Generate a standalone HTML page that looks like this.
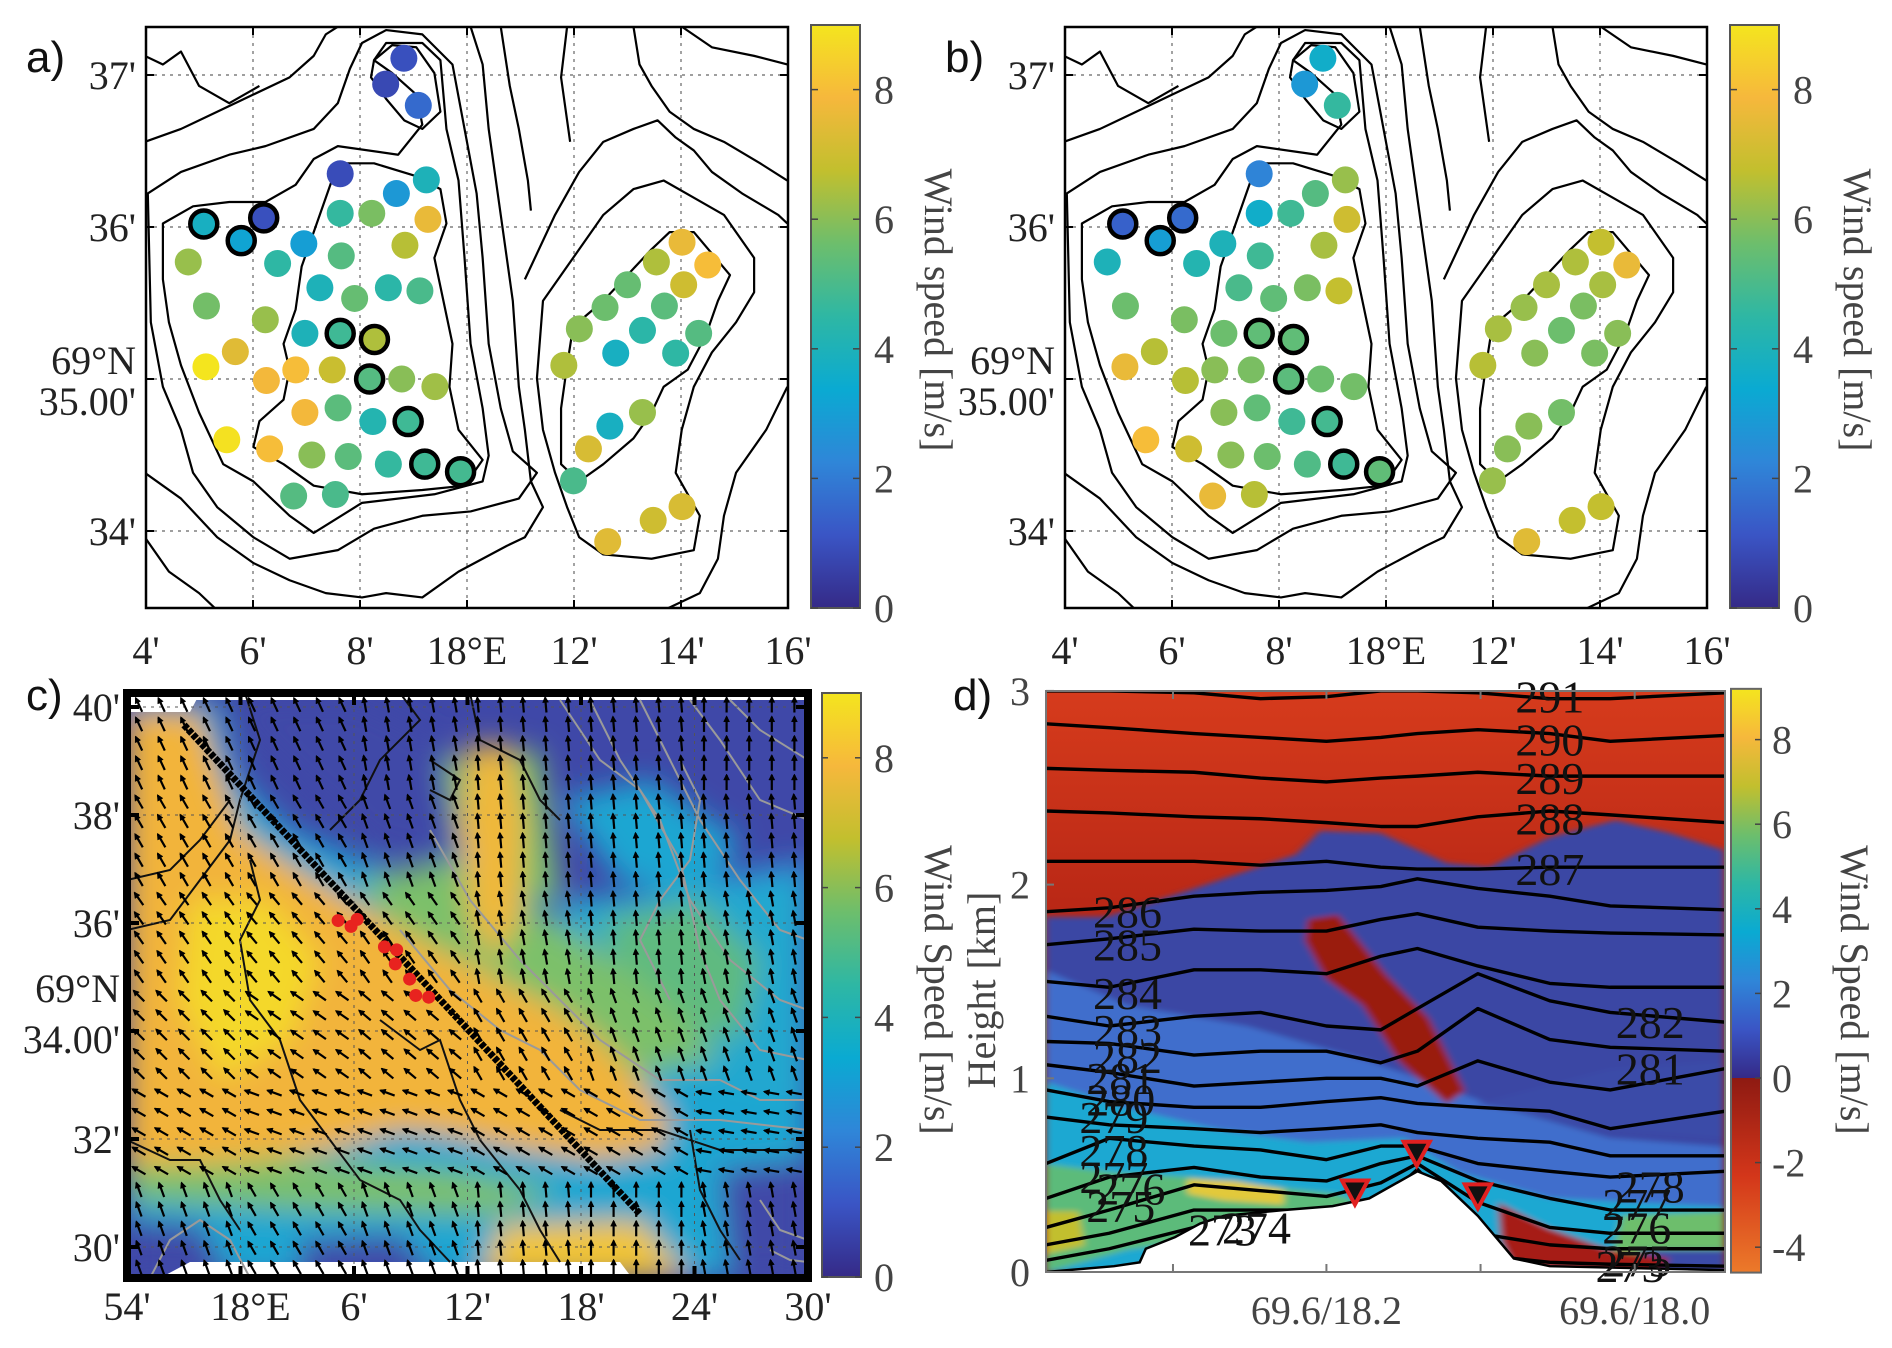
<!DOCTYPE html>
<html><head><meta charset="utf-8">
<style>
html,body{margin:0;padding:0;background:#fff;}
svg{display:block;font-family:"Liberation Serif",serif;}
.tk{font-size:40px;fill:#222;}
.tkg{font-size:40px;fill:#444;}
.pl{font-family:"Liberation Sans",sans-serif;font-size:44px;fill:#111;}
.bath polyline,.bath polygon{fill:none;stroke:#000;stroke-width:2.2;vector-effect:non-scaling-stroke;stroke-linejoin:round;}
</style></head><body>
<svg id="fig" width="1892" height="1348" viewBox="0 0 1892 1348" xmlns="http://www.w3.org/2000/svg">
<defs>
<linearGradient id="gPar" x1="0" y1="1" x2="0" y2="0">
<stop offset="0" stop-color="#352A87"/><stop offset="0.125" stop-color="#3A55C5"/><stop offset="0.25" stop-color="#2F86D8"/><stop offset="0.375" stop-color="#0AAAD2"/><stop offset="0.5" stop-color="#2EB7A4"/><stop offset="0.625" stop-color="#6DBE6C"/><stop offset="0.75" stop-color="#C2BF2E"/><stop offset="0.875" stop-color="#F6B83C"/><stop offset="1" stop-color="#F4E51E"/>
</linearGradient>
<linearGradient id="gRed" x1="0" y1="0" x2="0" y2="1"><stop offset="0" stop-color="#8E1A12"/><stop offset="0.5" stop-color="#D3361A"/><stop offset="1" stop-color="#EC7A2A"/></linearGradient>
<linearGradient id="gTop" x1="0" y1="0" x2="0" y2="1"><stop offset="0" stop-color="#D63B1C"/><stop offset="0.6" stop-color="#A81C12"/><stop offset="1" stop-color="#9A1810"/></linearGradient>
<filter id="blurC" x="-10%" y="-10%" width="120%" height="120%"><feGaussianBlur stdDeviation="14"/></filter>
<filter id="blurD" x="-10%" y="-10%" width="120%" height="120%"><feGaussianBlur stdDeviation="6"/></filter>
<clipPath id="clipA"><rect x="146" y="27" width="642" height="581"/></clipPath>
<clipPath id="clipB"><rect x="1065" y="27" width="642" height="581"/></clipPath>
<clipPath id="clipC"><rect x="127" y="693" width="681" height="585"/></clipPath>
<clipPath id="clipD"><rect x="1046" y="691" width="679" height="581"/></clipPath>
<g id="bathy" class="bath">
<polygon points="560,380 620,380 690,410 730,440 740,520 720,600 735,700 750,800 745,900 760,1000 800,1070 770,1130 700,1140 600,1150 520,1130 470,1080 420,1040 430,980 470,930 480,860 470,800 490,720 500,620 520,540 540,460"/>
<polygon points="620,140 650,105 690,110 720,170 730,260 700,300 670,280 640,230 615,180"/>
<polygon points="270,520 320,480 380,470 440,470 490,430 520,370 560,340 660,360 700,290 690,220 650,170 620,140 640,100 700,100 730,140 740,300 760,420 770,600 780,800 800,950 810,1060 800,1120 720,1150 600,1170 520,1240 480,1200 420,1120 370,1080 330,960 300,850 280,750 270,650"/>
<polygon points="245,450 300,400 380,360 440,340 520,300 560,240 580,160 600,100 640,70 700,80 750,150 770,300 790,450 800,600 810,800 830,950 850,1050 890,1100 860,1160 780,1190 700,1200 620,1230 560,1280 480,1300 420,1250 360,1180 320,1100 300,1000 270,900 250,750"/>
<polyline points="240,330 300,300 360,260 420,220 480,180 520,130 540,80 560,62"/>
<polyline points="240,1100 300,1160 360,1250 420,1310 480,1350 540,1380 600,1390 640,1380 700,1390 760,1330 800,1300 840,1270 870,1250 900,1180 880,1120 870,1000 860,900 850,700 830,500 810,300 800,150 780,62"/>
<polygon points="950,760 1000,700 1040,640 1080,580 1110,540 1150,540 1180,590 1210,640 1190,700 1170,780 1140,860 1100,900 1080,960 1050,1020 1000,1080 960,1120 930,1080 930,950 940,850"/>
<polygon points="900,700 950,600 1000,500 1050,440 1100,420 1150,460 1200,500 1250,600 1250,680 1220,750 1180,820 1150,900 1130,1000 1120,1100 1160,1200 1150,1280 1080,1300 1000,1290 960,1250 940,1180 920,1100 900,1000 890,880"/>
<polyline points="870,650 920,500 960,400 1000,330 1050,300 1090,280 1120,320 1150,350 1180,400 1230,450 1290,500 1305,520"/>
<polyline points="1305,900 1270,1000 1220,1100 1200,1200 1190,1300 1160,1380 1100,1420"/>
<polyline points="830,62 845,200 860,300 875,420 880,490"/>
<polyline points="1050,62 1060,150 1080,200 1110,260 1150,300 1200,330 1260,380 1305,420"/>
<polyline points="1130,62 1180,110 1250,130 1305,150"/>
<polyline points="940,62 930,180 945,330"/>
<polyline points="240,130 270,150 300,120 330,200 380,240 430,200"/>
<polyline points="240,1250 280,1330 330,1380 360,1420"/>
</g>
</defs>
</svg>
<script>
// ---------- data ----------
const stnLon=[8.82,8.48,9.09,7.63,8.68,9.24,7.63,8.22,9.27,5.08,6.20,5.78,6.95,7.65,8.84,4.79,6.46,7.25,7.90,8.53,9.12,5.13,6.23,6.97,7.63,8.27,5.67,5.12,6.80,6.25,7.48,8.18,8.78,9.40,6.97,7.59,8.24,8.90,5.51,6.31,7.10,7.78,8.53,9.21,9.88,6.76,7.54,14.02,14.50,13.54,14.05,13.00,12.58,13.69,12.10,13.28,14.33,12.78,13.90,11.81,13.28,12.67,12.27,11.99,14.02,13.48,12.63];
const stnLat=[37.11,36.94,36.80,36.35,36.22,36.31,36.09,36.09,36.05,36.02,36.06,35.91,35.89,35.81,35.88,35.77,35.76,35.60,35.53,35.60,35.58,35.48,35.39,35.30,35.30,35.26,35.18,35.08,35.06,34.99,35.06,35.00,35.00,34.95,34.78,34.81,34.72,34.72,34.60,34.54,34.50,34.49,34.44,34.44,34.39,34.23,34.24,35.90,35.75,35.77,35.62,35.62,35.47,35.48,35.33,35.32,35.30,35.17,35.17,35.09,34.78,34.69,34.54,34.33,34.16,34.07,33.93];
const wsA=[1.0,0.8,1.6,0.9,2.8,4.0,4.6,5.8,7.6,3.8,1.0,3.2,3.0,5.2,6.6,6.2,4.5,4.0,5.5,4.4,5.0,5.7,6.2,4.0,4.8,6.5,7.4,9.0,8.0,7.8,6.9,5.2,6.0,6.3,7.8,5.3,4.2,4.8,8.9,8.0,6.0,5.3,4.6,4.8,4.9,5.2,5.0,7.6,8.0,6.5,7.0,5.5,5.6,5.3,6.0,4.4,5.2,3.8,4.5,6.5,6.2,3.8,7.2,5.0,7.2,7.0,7.4];
const wsB=[3.6,2.8,4.6,2.2,5.2,6.2,3.6,4.8,7.0,1.4,1.6,3.0,4.0,4.8,6.4,4.0,4.2,5.0,5.4,5.8,6.8,5.6,5.8,5.6,5.4,5.4,6.6,7.6,6.0,6.6,5.8,5.3,5.6,5.7,6.0,5.4,4.8,4.9,8.0,7.0,6.0,5.6,5.1,4.8,5.4,7.6,6.6,6.8,7.6,6.5,6.4,6.4,6.2,5.8,6.4,5.6,6.0,6.0,5.8,6.6,5.7,6.0,6.0,6.2,6.8,6.8,7.4];
const outlined=[9,10,11,24,25,31,37,43,44];
const lonTicks=[4,6,8,10,12,14,16];
const lonTickLabels=["4'","6'","8'","18°E","12'","14'","16'"];
const latTicks=[37,36,35,34];
const latTickLabels=["37'","36'","35.00'","34'"];
const cbTicks=[0,2,4,6,8];
// panel c
const cLonLabels=["54'","18°E","6'","12'","18'","24'","30'"];
const cLatLabels=["40'","38'","36'","34.00'","32'","30'"];
const windAngle=[
 [-115,-115,-100,-95,-95,-90],
 [-120,-120,-110,-95,-95,-95],
 [-125,-130,-125,-100,-95,-100],
 [-135,-145,-140,-120,-110,-110],
 [-150,-160,-160,-150,-150,-170],
 [-110,-120,-110,-95,-90,-100]];
const redLon=[0.31,0.329,0.338,0.378,0.396,0.394,0.415,0.424,0.443];
const redLat=[0.389,0.399,0.387,0.434,0.439,0.463,0.489,0.517,0.520];
// panel d
const dKnots=[0,0.093,0.218,0.316,0.413,0.493,0.547,0.636,0.742,0.831,1];
const thetaLevels=[291,290,289,288,287,286,285,284,283,282,281,280,279,278,277,276,275,274];
const thetaH=[
[3.00,3.00,2.99,2.96,2.97,3.00,3.00,2.99,2.96,2.96,2.99],
[2.83,2.81,2.78,2.76,2.74,2.76,2.78,2.80,2.78,2.74,2.77],
[2.60,2.59,2.58,2.55,2.53,2.55,2.56,2.58,2.56,2.56,2.56],
[2.38,2.37,2.35,2.34,2.32,2.30,2.30,2.35,2.38,2.36,2.32],
[2.12,2.12,2.12,2.10,2.12,2.09,2.08,2.08,2.09,2.09,2.09],
[1.86,1.88,1.94,1.96,1.97,1.99,2.03,1.98,1.94,1.89,1.87],
[1.69,1.72,1.77,1.76,1.76,1.82,1.85,1.78,1.76,1.75,1.74],
[1.50,1.47,1.56,1.56,1.54,1.63,1.67,1.58,1.49,1.47,1.47],
[1.32,1.27,1.32,1.34,1.27,1.25,1.36,1.54,1.40,1.34,1.29],
[1.19,1.18,1.12,1.14,1.14,1.08,1.14,1.36,1.20,1.16,1.14],
[1.07,1.03,0.96,0.98,1.00,1.00,0.96,1.09,0.98,0.94,1.05],
[0.94,0.88,0.85,0.85,0.88,0.90,0.87,0.85,0.83,0.74,0.83],
[0.80,0.76,0.74,0.72,0.74,0.76,0.72,0.69,0.67,0.60,0.60],
[0.56,0.69,0.65,0.63,0.58,0.65,0.65,0.56,0.52,0.49,0.52],
[0.38,0.49,0.54,0.49,0.47,0.56,0.60,0.47,0.38,0.32,0.32],
[0.23,0.32,0.45,0.42,0.39,0.46,0.56,0.36,0.23,0.20,0.20],
[0.14,0.20,0.32,0.32,0.32,0.36,0.53,0.20,0.14,0.12,0.12],
[0.06,0.12,0.23,0.27,0.28,0.34,0.52,0.09,0.05,0.04,0.03]];
const terrF=[0,0.1,0.138,0.147,0.19,0.227,0.262,0.351,0.422,0.476,0.547,0.582,0.636,0.689,0.742,1];
const terrH=[0,0.03,0.05,0.12,0.18,0.25,0.29,0.32,0.34,0.38,0.52,0.47,0.29,0.07,0.03,0.01];
const triF=[0.455,0.546,0.636];
const triH=[0.40,0.60,0.38];
const dYTicks=[0,1,2,3];
const dXLabels=["69.6/18.2","69.6/18.0"];
const dXLabelF=[0.413,0.867];
const dCbTicks=[-4,-2,0,2,4,6,8];

// ---------- helpers ----------
const NS='http://www.w3.org/2000/svg';
const svg=document.getElementById('fig');
function el(tag,attrs,parent){const e=document.createElementNS(NS,tag);for(const k in attrs)e.setAttribute(k,attrs[k]);(parent||svg).appendChild(e);return e;}
const PAR=[[0,[53,42,135]],[0.125,[58,85,197]],[0.25,[47,134,216]],[0.375,[10,170,210]],[0.5,[46,183,164]],[0.625,[109,190,108]],[0.75,[194,191,46]],[0.875,[246,184,60]],[1,[244,229,30]]];
function parula(v){let t=Math.max(0,Math.min(1,v/9));for(let i=1;i<PAR.length;i++){if(t<=PAR[i][0]){const a=PAR[i-1],b=PAR[i];const u=(t-a[0])/(b[0]-a[0]);const c=a[1].map((x,j)=>Math.round(x+(b[1][j]-x)*u));return 'rgb('+c.join(',')+')';}}return 'rgb(244,229,30)';}

// ---------- panels a & b ----------
function mapPanel(off,vals,letter,name){
  const lonX=l=>146+off+(l-4)*53.5;
  const latY=l=>75+(37-l)*152;
  const g=el('g',{});
  
  
  el('rect',{x:146+off,y:27,width:642,height:581,fill:'#fff'},g);
  lonTicks.forEach(t=>{const gl=el('line',{x1:lonX(t),x2:lonX(t),y1:27,y2:608,stroke:'#666','stroke-width':1.2,'stroke-dasharray':'3 5'},g);});
  latTicks.forEach(t=>{const gl=el('line',{x1:146+off,x2:788+off,y1:latY(t),y2:latY(t),stroke:'#666','stroke-width':1.2,'stroke-dasharray':'3 5'},g);});
  const bg=el('g',{'clip-path':'url(#clip'+(off?'B':'A')+')'},g);
  const u=el('use',{href:'#bathy',transform:'translate('+off+',0) matrix(0.6033,0,0,0.4298,0,0)'},bg);
  
  
  for(let i=0;i<stnLon.length;i++){
    const isO=outlined.indexOf(i)>=0;
    const c=el('circle',{cx:lonX(stnLon[i]),cy:latY(stnLat[i]),r:13.5,fill:parula(vals[i]),stroke:isO?'#000':'none','stroke-width':isO?4.5:0},g);
    
    
  }
  el('rect',{x:146+off,y:27,width:642,height:581,fill:'none',stroke:'#000','stroke-width':2.5},g);
  lonTicks.forEach((t,i)=>{
    el('line',{x1:lonX(t),x2:lonX(t),y1:608,y2:600,stroke:'#000','stroke-width':2},g);
    el('line',{x1:lonX(t),x2:lonX(t),y1:27,y2:35,stroke:'#000','stroke-width':2},g);
    const tx=el('text',{x:lonX(t),y:664,'text-anchor':'middle',class:'tk'},g);tx.textContent=lonTickLabels[i];
    
    
  });
  latTicks.forEach((t,i)=>{
    el('line',{x1:146+off,x2:154+off,y1:latY(t),y2:latY(t),stroke:'#000','stroke-width':2},g);
    el('line',{x1:788+off,x2:780+off,y1:latY(t),y2:latY(t),stroke:'#000','stroke-width':2},g);
    const tx=el('text',{x:136+off,y:latY(t)+(t===35?36:14),'text-anchor':'end',class:'tk'},g);tx.textContent=latTickLabels[i];
    
    
  });
  const n=el('text',{x:136+off,y:374,'text-anchor':'end',class:'tk'},g);n.textContent='69°N';
  
  
  const cb=el('rect',{x:811+off,y:25,width:49,height:583,fill:'url(#gPar)',stroke:'#555','stroke-width':2},g);
  
  
  cbTicks.forEach(t=>{const y=608-t*64.8;
    el('line',{x1:811+off,x2:818+off,y1:y,y2:y,stroke:'#444','stroke-width':1.5},g);
    el('line',{x1:860+off,x2:853+off,y1:y,y2:y,stroke:'#444','stroke-width':1.5},g);
    const tx=el('text',{x:874+off,y:y+14,class:'tkg'},g);tx.textContent=t;
    
    });
  const cl=el('text',{x:0,y:0,class:'tkg',transform:'translate('+(925+off)+',310) rotate(90)','text-anchor':'middle'},g);cl.textContent='Wind speed [m/s]';
  
  
  const pl=el('text',{x:26+off,y:72,class:'pl'},g);pl.textContent=letter;
  
  
}
mapPanel(0,wsA,'a)','panel-a-map');
mapPanel(919,wsB,'b)','panel-b-map');

// ---------- panel c ----------
(function(){
  const X0=127,Y0=693,W=681,H=585;
  const g=el('g',{});
  
  
  const cg=el('g',{'clip-path':'url(#clipC)'},g);
  el('rect',{x:X0,y:Y0,width:W,height:H,fill:'#3F48A8'},cg);
  const fg=el('g',{filter:'url(#blurC)'},cg);
  const polys=[
   ['#1EA6D2','127,700 215,700 240,780 290,830 360,860 430,880 470,800 520,880 570,940 620,960 700,1000 808,1020 808,1278 127,1278'],
   ['#1EA6D2','560,800 650,780 740,840 700,900 620,880'],
   ['#2A9AD6','700,880 808,860 808,960 740,940'],
   ['#22A8CF','560,900 808,880 808,1100 560,1060'],
   ['#5FBA80','600,920 700,900 760,960 740,1040 640,1020'],
   ['#7CC06A','360,880 450,860 520,900 600,950 680,1010 720,1060 600,1080 480,1060'],
   ['#7CC06A','430,760 540,750 560,900 480,900'],
   ['#7CC06A','127,1140 300,1160 450,1170 560,1190 500,1215 300,1210 127,1200'],
   ['#F2B43A','127,712 200,712 215,760 240,830 300,870 350,900 420,940 500,980 560,1010 600,1040 640,1080 670,1120 660,1150 600,1160 520,1150 450,1135 400,1130 330,1150 260,1160 200,1165 127,1165'],
   ['#F0B83A','470,745 510,745 525,820 520,920 495,960 470,920 462,830'],
   ['#F4D82A','190,900 270,900 320,960 290,1040 220,1080 180,1000'],
   ['#F2C535','500,1225 640,1220 690,1278 480,1278'],
   ['#3F48A8','127,1220 200,1225 230,1278 127,1278'],
   ['#3F48A8','300,1240 400,1235 440,1278 300,1278'],
   ['#3F48A8','220,700 360,700 440,740 460,860 380,850 300,780'],
   ['#3F48A8','720,1170 808,1160 808,1278 730,1278']];
  polys.forEach(p=>{const q=el('polygon',{points:p[1],fill:p[0]},fg);});
  el('polygon',{points:'127,693 808,693 808,700 127,700',fill:'#fff'},cg);
  el('polygon',{points:'160,1278 190,1262 620,1262 632,1278',fill:'#fff'},cg);
  el('polygon',{points:'127,693 200,693 190,712 127,712',fill:'#fff'},cg);
  const grays=['560,700 600,760 640,790 680,860 700,950 720,1000 760,1050 808,1060',
   '590,700 620,760 660,820 690,900 730,960 780,1000 808,1010',
   '640,700 670,760 700,820 740,880 780,930 808,940',
   '690,700 720,740 760,800 808,820','730,700 760,730 808,760',
   '430,830 470,900 520,960 560,1000 600,1040 660,1080 720,1080 760,1100 808,1100',
   '400,930 450,990 500,1030 540,1050 580,1090 640,1120 720,1120 808,1130',
   '680,760 700,800 690,860 660,900 640,940 670,1000',
   '760,1200 780,1230 808,1240','770,1250 790,1260 808,1262',
   '150,1278 170,1240 200,1220 230,1240 250,1278'];
  grays.forEach(s=>{const q=el('polyline',{points:s,fill:'none',stroke:'#9a9a9a','stroke-width':2},cg);});
  const coasts=['245,693 260,740 240,800 230,840 200,880 170,920 127,930',
   '127,880 170,870 200,840 230,800',
   '250,860 260,900 240,940 250,1000 280,1040 300,1100 330,1140 360,1180 400,1200 420,1230 450,1262',
   '400,693 420,720 380,760 360,800 330,830',
   '470,693 480,740 520,760 540,800 560,820',
   '430,760 460,780 450,800 430,790',
   '127,1140 170,1160 200,1160 220,1200 240,1230',
   '560,1110 600,1130 660,1130 720,1150 808,1150',
   '690,1130 700,1190 720,1230 740,1260',
   '380,1020 420,1050 440,1040 460,1100 480,1140 520,1190 540,1230 560,1262'];
  coasts.forEach(s=>{const q=el('polyline',{points:s,fill:'none',stroke:'#111','stroke-width':2},cg);});
  for(let i=0;i<7;i++){const x=X0+i*113.5;el('line',{x1:x,x2:x,y1:Y0,y2:Y0+H,stroke:'#555','stroke-width':1,'stroke-dasharray':'3 5'},cg);}
  for(let i=0;i<6;i++){const y=707+i*108;el('line',{x1:X0,x2:X0+W,y1:y,y2:y,stroke:'#555','stroke-width':1,'stroke-dasharray':'3 5'},cg);}
  const ag=el('g',{stroke:'#000','stroke-width':2.2,fill:'#000'},cg);
  
  
  const rows=windAngle.length,cols=windAngle[0].length;
  for(let r=0;r<30;r++)for(let c=0;c<30;c++){
    const x=X0+12+c*22.6,y=Y0+12+r*19.4;
    const gr=Math.min(rows-1,Math.floor((y-Y0)/H*rows)),gc=Math.min(cols-1,Math.floor((x-X0)/W*cols));
    const a=windAngle[gr][gc]*Math.PI/180,L=7.5;
    const dx=Math.cos(a)*L,dy=Math.sin(a)*L;
    const ln=el('line',{x1:x-dx,y1:y-dy,x2:x+dx,y2:y+dy},ag);
    
    
    const hx=x+dx*1.15,hy=y+dy*1.15,px=-Math.sin(a)*3,py=Math.cos(a)*3,bx=x+dx*0.35,by=y+dy*0.35;
    el('polygon',{points:hx+','+hy+' '+(bx+px)+','+(by+py)+' '+(bx-px)+','+(by-py),'stroke-width':0.5},ag);
  }
  const tr=el('line',{x1:184,y1:725,x2:640,y2:1214,stroke:'#000','stroke-width':7,'stroke-dasharray':'5 1.5'},cg);
  
  
  redLon.forEach((f,i)=>{const d=el('circle',{cx:X0+f*W,cy:Y0+redLat[i]*H,r:6.5,fill:'#E8231F'},cg);
    
    });
  el('rect',{x:X0,y:Y0,width:W,height:H,fill:'none',stroke:'#000','stroke-width':8},g);
  cLonLabels.forEach((s,i)=>{const x=X0+i*113.5;
    el('line',{x1:x,x2:x,y1:Y0+H,y2:Y0+H-12,stroke:'#000','stroke-width':4},g);
    el('line',{x1:x,x2:x,y1:Y0,y2:Y0+12,stroke:'#000','stroke-width':4},g);
    const t=el('text',{x:x+(i===1?10:0),y:1320,'text-anchor':'middle',class:'tk'},g);t.textContent=s;
    
    });
  cLatLabels.forEach((s,i)=>{const y=707+i*108;
    el('line',{x1:X0,x2:X0+12,y1:y,y2:y,stroke:'#000','stroke-width':4},g);
    el('line',{x1:X0+W,x2:X0+W-12,y1:y,y2:y,stroke:'#000','stroke-width':4},g);
    const t=el('text',{x:120,y:y+(i===3?22:14),'text-anchor':'end',class:'tk'},g);t.textContent=s;
    
    });
  const n=el('text',{x:120,y:1002,'text-anchor':'end',class:'tk'},g);n.textContent='69°N';
  
  
  const cb=el('rect',{x:822,y:693,width:39,height:584,fill:'url(#gPar)',stroke:'#555','stroke-width':2},g);
  
  
  cbTicks.forEach(t=>{const y=1277-t*64.9;
    el('line',{x1:822,x2:828,y1:y,y2:y,stroke:'#444','stroke-width':1.5},g);
    el('line',{x1:861,x2:855,y1:y,y2:y,stroke:'#444','stroke-width':1.5},g);
    const tx=el('text',{x:874,y:y+14,class:'tkg'},g);tx.textContent=t;
    
    });
  const cl=el('text',{x:0,y:0,class:'tkg',transform:'translate(925,990) rotate(90)','text-anchor':'middle'},g);cl.textContent='Wind Speed [m/s]';
  
  
  const pl=el('text',{x:26,y:710,class:'pl'},g);pl.textContent='c)';
  
  
})();

// ---------- panel d ----------
(function(){
  const X0=1046,Y0=691,W=679,H=581;
  const dX=f=>X0+f*W, dY=k=>1272-k*193.7;
  const g=el('g',{});
  
  
  const cg=el('g',{'clip-path':'url(#clipD)'},g);
  el('rect',{x:X0,y:Y0,width:W,height:H,fill:'url(#gTop)'},cg);
  const fg=el('g',{filter:'url(#blurD)',transform:'matrix(0.6033,0,0,0.4298,946,674)'},cg);
  const polys=[
   ['#3A47A4','165,565 265,565 410,500 580,420 620,365 720,370 830,440 900,450 1000,380 1110,340 1200,370 1290,410 1290,1392 165,1392'],
   ['#3F6ECC','165,690 300,770 500,820 700,900 900,1000 1100,1080 1290,1100 1290,1392 165,1392'],
   ['#3A4BA8','880,1000 1100,920 1290,900 1290,1080 1100,1060'],
   ['#1AA8D2','165,950 300,1010 450,1060 600,1090 760,1080 850,1160 1000,1220 1290,1240 1290,1392 165,1392'],
   ['#5CBB7A','165,1140 280,1160 400,1170 520,1190 650,1210 700,1240 500,1300 300,1340 165,1392'],
   ['#6DBE6C','1120,1260 1290,1250 1290,1392 1100,1370'],
   ['#E2C93A','400,1175 480,1180 560,1200 560,1235 460,1225 400,1210'],
   ['#C2BF2E','165,1250 220,1250 230,1330 165,1350'],
   ['#3A4BA8','1150,1340 1290,1340 1290,1392 1150,1392'],
   ['#9A1A10','600,570 650,560 730,700 800,800 860,970 830,1000 750,900 690,770 630,710 595,620'],
   ['#A61C12','915,1230 1000,1290 1100,1340 1200,1360 1180,1392 940,1380 920,1320']];
  polys.forEach(p=>{const q=el('polygon',{points:p[1],fill:p[0]},fg);});
  thetaLevels.forEach((lev,i)=>{
    const pts=dKnots.map((f,j)=>dX(f)+','+dY(thetaH[i][j])).join(' ');
    const l=el('polyline',{points:pts,fill:'none',stroke:'#000','stroke-width':3.4,'stroke-linejoin':'round'},cg);
    
    
  });
  const tp=terrF.map((f,j)=>dX(f)+','+dY(terrH[j])).join(' ')+' '+dX(1)+','+(Y0+H+2)+' '+dX(0)+','+(Y0+H+2);
  const tr=el('polygon',{points:tp,fill:'#fff',stroke:'#000','stroke-width':2.5},cg);
  
  
  triF.forEach((f,i)=>{const x=dX(f),y=dY(triH[i]);
    const t=el('polygon',{points:(x-13)+','+(y-14)+' '+(x+13)+','+(y-14)+' '+x+','+(y+10),fill:'#111',stroke:'#E02020','stroke-width':4},cg);
    
    });
  const labs=[['291',0.742,2.96],['290',0.742,2.74],['289',0.742,2.54],['288',0.742,2.33],['287',0.742,2.07],
   ['286',0.12,1.85],['285',0.12,1.68],['284',0.12,1.43],['283',0.12,1.24],['282',0.12,1.10],['281',0.11,0.99],['280',0.11,0.88],['279',0.10,0.79],['278',0.10,0.62],['277',0.10,0.48],['276',0.125,0.42],['275',0.11,0.33],
   ['273',0.26,0.21],['274',0.31,0.22],['282',0.89,1.28],['281',0.89,1.04],['278',0.89,0.43],['277',0.87,0.34],['276',0.87,0.22],['275',0.87,0.05],['273',0.86,0.02]];
  labs.forEach(a=>{const t=el('text',{x:dX(a[1]),y:dY(a[2])+14,'text-anchor':'middle',style:'font-size:46px;fill:#111'},g);t.textContent=a[0];
    
    });
  el('rect',{x:X0,y:Y0,width:W,height:H,fill:'none',stroke:'#777','stroke-width':2},g);
  [0.187,0.413,0.64,0.867].forEach(f=>{el('line',{x1:dX(f),x2:dX(f),y1:1272,y2:1264,stroke:'#777','stroke-width':2},g);el('line',{x1:dX(f),x2:dX(f),y1:691,y2:699,stroke:'#777','stroke-width':2},g);});
  dYTicks.forEach(k=>{const y=dY(k);el('line',{x1:X0,x2:X0+8,y1:y,y2:y,stroke:'#777','stroke-width':2},g);
    const t=el('text',{x:1030,y:y+14,'text-anchor':'end',class:'tkg'},g);t.textContent=k;
    
    });
  dXLabels.forEach((s,i)=>{const t=el('text',{x:dX(dXLabelF[i]),y:1324,'text-anchor':'middle',class:'tkg'},g);t.textContent=s;
    
    });
  const yl=el('text',{x:0,y:0,transform:'translate(995,990) rotate(-90)','text-anchor':'middle',class:'tkg'},g);yl.textContent='Height [km]';
  
  
  const cy=v=>1078-v*42.3;
  const c1=el('rect',{x:1731,y:cy(9.2),width:30,height:cy(0)-cy(9.2),fill:'url(#gPar)'},g);
  
  
  const c2=el('rect',{x:1731,y:cy(0),width:30,height:cy(-4.6)-cy(0),fill:'url(#gRed)'},g);
  
  
  el('rect',{x:1731,y:cy(9.2),width:30,height:cy(-4.6)-cy(9.2),fill:'none',stroke:'#666','stroke-width':2},g);
  dCbTicks.forEach(v=>{const y=cy(v);el('line',{x1:1755,x2:1761,y1:y,y2:y,stroke:'#444','stroke-width':1.5},g);
    const t=el('text',{x:1772,y:y+14,class:'tkg'},g);t.textContent=v;
    
    });
  const cl=el('text',{x:0,y:0,class:'tkg',transform:'translate(1841,990) rotate(90)','text-anchor':'middle'},g);cl.textContent='Wind Speed [m/s]';
  
  
  const pl=el('text',{x:953,y:710,class:'pl'},g);pl.textContent='d)';
  
  
})();
</script>
</body></html>
